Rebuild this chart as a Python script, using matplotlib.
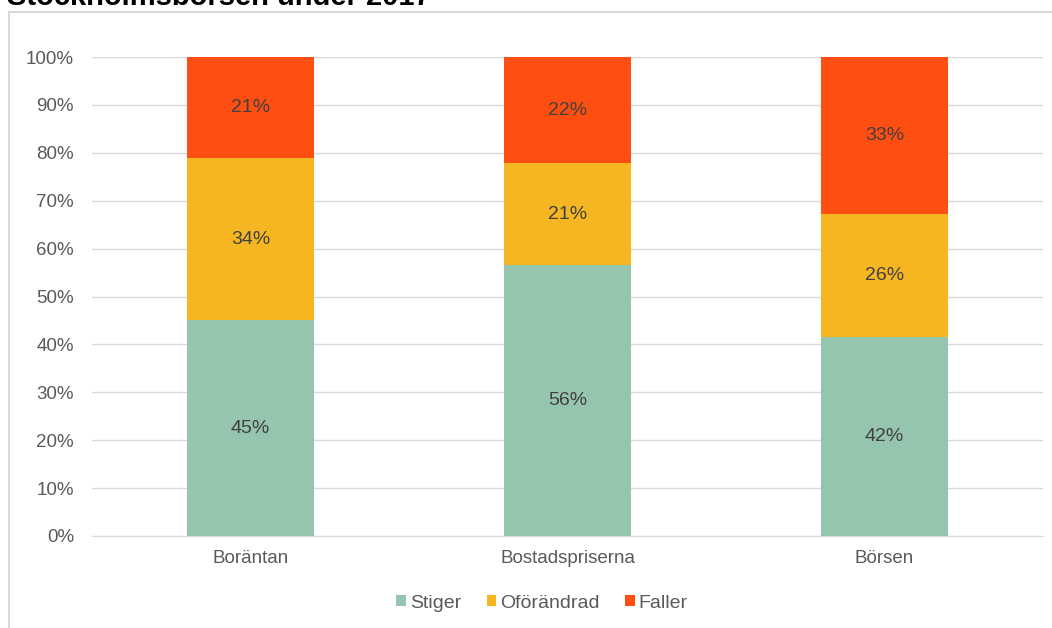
import matplotlib
matplotlib.use("Agg")
import matplotlib.pyplot as plt
from matplotlib.patches import Rectangle
import numpy as np

categories = ["Boräntan", "Bostadspriserna", "Börsen"]
series_names = ["Stiger", "Oförändrad", "Faller"]
stiger = [45, 56, 42]
oforandrad = [34, 21, 26]
faller = [21, 22, 33]
colors = ["#95C4AF", "#F5B622", "#FF4E12"]
yticks = [0, 10, 20, 30, 40, 50, 60, 70, 80, 90, 100]

plt.rcParams['font.family'] = ['Liberation Sans', 'DejaVu Sans']
W, H = 1052, 628
fig = plt.figure(figsize=(W/100, H/100), dpi=100)

# outer chart frame
fig.patches.append(Rectangle((9/W, -0.01), 1.0, (H-12)/H + 0.01, transform=fig.transFigure,
                             fill=False, edgecolor="#D9D9D9", linewidth=1.5))
fig.text(7/W, 1 - 5/H, "Stockholmsbörsen under 2017", fontsize=21, fontweight="bold",
         color="black", ha="left", va="baseline")

ax = fig.add_axes([92/W, 1 - 536/H, (1043-92)/W, (536-57)/H])
data = np.array([stiger, oforandrad, faller], dtype=float)
totals = data.sum(axis=0)
pct = data / totals * 100
x = np.arange(len(categories))
bottom = np.zeros(len(categories))
for i, name in enumerate(series_names):
    ax.bar(x, pct[i], 0.4, bottom=bottom, color=colors[i], label=name, zorder=3)
    for j in range(len(categories)):
        ax.text(x[j], bottom[j] + pct[i][j] / 2, f"{int(data[i][j])}%", ha="center", va="center",
                fontsize=14, color="#404040", zorder=4)
    bottom += pct[i]

ax.set_xlim(-0.5, 2.5)
ax.set_ylim(0, 100)
ax.set_yticks(yticks)
ax.set_yticklabels([f"{t}%" for t in yticks])
ax.set_xticks(x)
ax.set_xticklabels(categories)
ax.grid(axis="y", color="#D9D9D9", linewidth=1, zorder=0)
for s in ["top", "right", "left"]:
    ax.spines[s].set_visible(False)
ax.spines["bottom"].set_color("#D9D9D9")
ax.tick_params(axis="both", length=0, labelsize=13.5, labelcolor="#595959")
ax.tick_params(axis="y", pad=13)
ax.tick_params(axis="x", pad=10)

leg = fig.legend(loc="center", bbox_to_anchor=(542/W, 1 - 603/H), ncol=3, frameon=False,
                 fontsize=14, handlelength=0.5, handleheight=0.5, handletextpad=0.2,
                 columnspacing=1.3, labelcolor="#595959")

fig.savefig("out.png", dpi=100)
